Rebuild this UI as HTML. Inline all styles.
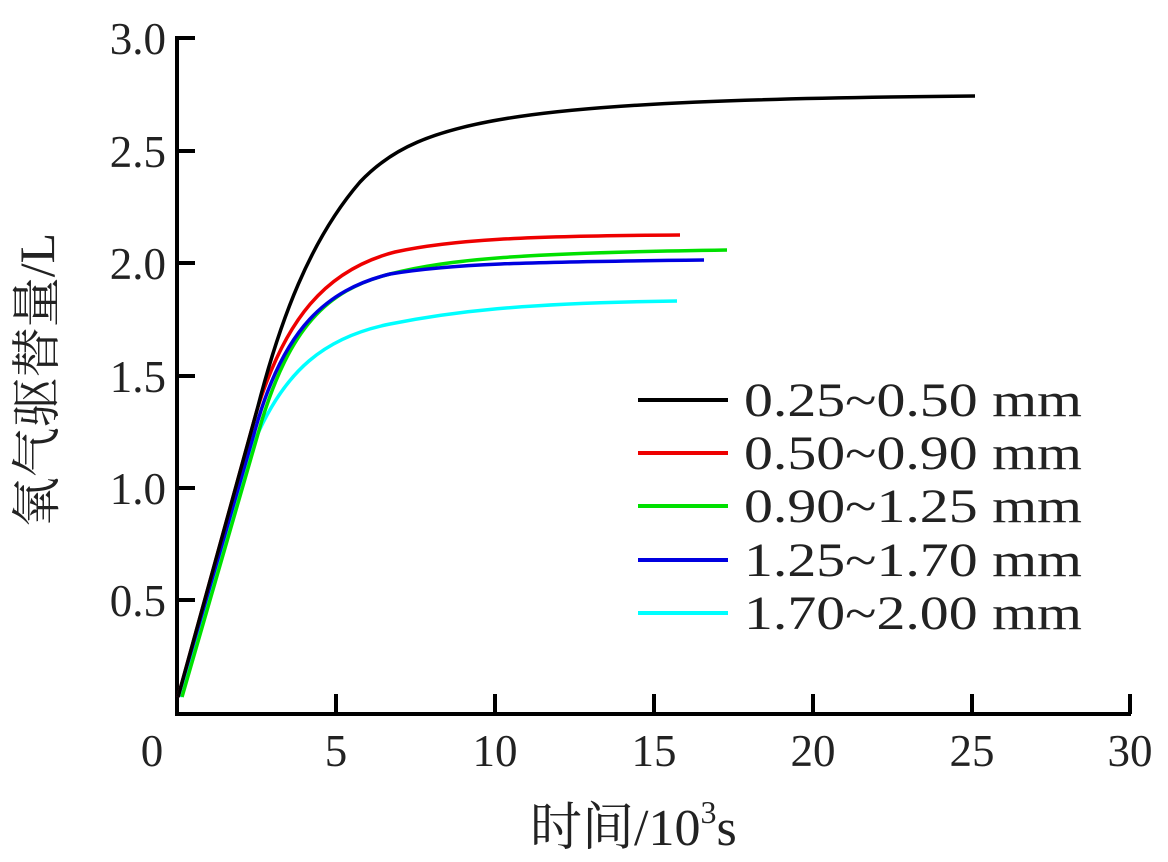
<!DOCTYPE html>
<html><head><meta charset="utf-8"><style>
html,body{margin:0;padding:0;background:#fff;}
svg{display:block;}
text{font-family:"Liberation Serif","Noto Serif CJK SC",serif;fill:#222;}
</style></head><body>
<svg width="1168" height="862" viewBox="0 0 1168 862" xmlns="http://www.w3.org/2000/svg">
<g stroke="#000" stroke-width="4" fill="none">
<path d="M177,36 L177,714 L1131,714"/>
<path d="M177,38 h18 M177,151 h18 M177,263 h18 M177,376 h18 M177,488 h18 M177,600 h18"/>
<path d="M336,714 v-20 M495,714 v-20 M654,714 v-20 M813,714 v-20 M972,714 v-20 M1130,714 v-20"/>
</g>
<g font-size="45" text-anchor="end">
<text x="166" y="54">3.0</text>
<text x="166" y="167">2.5</text>
<text x="166" y="279">2.0</text>
<text x="166" y="392">1.5</text>
<text x="166" y="504">1.0</text>
<text x="166" y="616">0.5</text>
</g>
<g font-size="45" text-anchor="middle">
<text x="152" y="766">0</text>
<text x="336" y="766">5</text>
<text x="495" y="766">10</text>
<text x="654" y="766">15</text>
<text x="813" y="766">20</text>
<text x="972" y="766">25</text>
<text x="1130" y="766">30</text>
</g>
<text x="530" y="845" font-size="52">时间/10<tspan font-size="32" dy="-22">3</tspan><tspan dy="22">s</tspan></text>
<text transform="translate(54,380) rotate(-90)" font-size="50" text-anchor="middle">氧气驱替量/L</text>
<g fill="none" stroke-width="3.5">
<path stroke="#00ffff" d="M180,697 L255,440 C285,370 325,337 390,324 C450,312 520,303 677,301"/>
<path stroke="#00e000" d="M182,697 L262,420 C290,330 325,290 390,274 C450,259 520,253 727,250"/>
<path stroke="#0000e0" d="M178,697 L258,420 C285,330 325,290 390,274 C450,264 520,262 704,260"/>
<path stroke="#ee0000" d="M178,697 L257,410 C285,320 325,270 395,252 C450,240 520,236 680,235"/>
<path stroke="#000" d="M178,697 L257,410 C280,320 310,240 360,182 C420,118 520,100 975,96"/>
</g>
<g stroke-width="4">
<line x1="638" y1="400" x2="728" y2="400" stroke="#000"/>
<line x1="638" y1="453" x2="728" y2="453" stroke="#ee0000"/>
<line x1="638" y1="506" x2="728" y2="506" stroke="#00e000"/>
<line x1="638" y1="560" x2="728" y2="560" stroke="#0000e0"/>
<line x1="638" y1="613" x2="728" y2="613" stroke="#00ffff"/>
</g>
<g font-size="48">
<text x="744" y="416" textLength="338" lengthAdjust="spacingAndGlyphs">0.25~0.50 mm</text>
<text x="744" y="469" textLength="338" lengthAdjust="spacingAndGlyphs">0.50~0.90 mm</text>
<text x="744" y="522" textLength="338" lengthAdjust="spacingAndGlyphs">0.90~1.25 mm</text>
<text x="744" y="576" textLength="338" lengthAdjust="spacingAndGlyphs">1.25~1.70 mm</text>
<text x="744" y="629" textLength="338" lengthAdjust="spacingAndGlyphs">1.70~2.00 mm</text>
</g>
</svg>
</body></html>
